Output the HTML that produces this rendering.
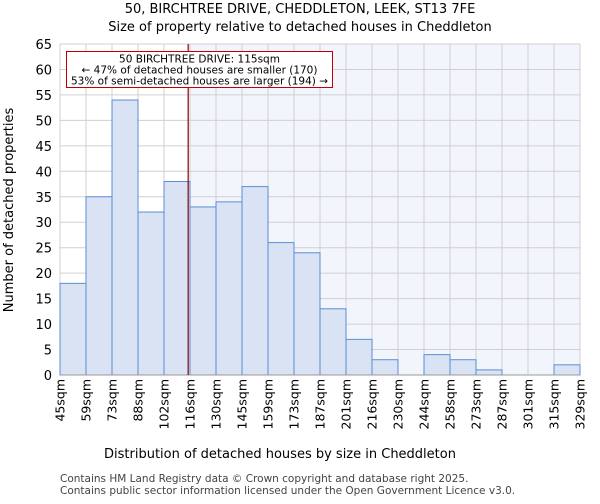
<!DOCTYPE html>
<html><head><meta charset="utf-8"><style>
body{margin:0;background:#fff;font-family:"DejaVu Sans","Liberation Sans",sans-serif}
</style></head><body>
<svg width="600" height="500" xmlns="http://www.w3.org/2000/svg" font-family="DejaVu Sans, Liberation Sans, sans-serif">
<text x="300" y="13" text-anchor="middle" font-size="13">50, BIRCHTREE DRIVE, CHEDDLETON, LEEK, ST13 7FE</text>
<text x="300" y="31" text-anchor="middle" font-size="13">Size of property relative to detached houses in Cheddleton</text>
<g id="plot"></g>
<text x="280" y="458" text-anchor="middle" font-size="13">Distribution of detached houses by size in Cheddleton</text>
<text transform="translate(13,210) rotate(-90)" text-anchor="middle" font-size="13">Number of detached properties</text>
<text x="60" y="482" font-size="10.5" fill="#444">Contains HM Land Registry data © Crown copyright and database right 2025.</text>
<text x="60" y="494" font-size="10.5" fill="#444">Contains public sector information licensed under the Open Government Licence v3.0.</text>
</svg>
<script>
const binLabels=["45sqm","59sqm","73sqm","88sqm","102sqm","116sqm","130sqm","145sqm","159sqm","173sqm","187sqm","201sqm","216sqm","230sqm","244sqm","258sqm","273sqm","287sqm","301sqm","315sqm","329sqm"];
const counts=[18,35,54,32,38,33,34,37,26,24,13,7,3,0,4,3,1,0,0,2];
const yTicks=[0,5,10,15,20,25,30,35,40,45,50,55,60,65];
const propertySize=115;
const edgeStart=45, edgeStep=14.2;
const L=60,R=580,T=44,B=375,yMax=65;
const ns="http://www.w3.org/2000/svg";
const g=document.getElementById('plot');
const bw=(R-L)/counts.length;
const x=v=>L+(v-edgeStart)/edgeStep*bw;
const y=v=>B-(v/yMax)*(B-T);
function mk(t,a){const e=document.createElementNS(ns,t);for(const k in a)e.setAttribute(k,a[k]);g.appendChild(e);return e;}
const px=x(propertySize);
let sh=mk('rect',{x:px,y:T,width:R-px,height:B-T,fill:'#f2f5fc'});


yTicks.forEach(t=>{
 let l=mk('line',{x1:L,x2:R,y1:y(t),y2:y(t),stroke:'#d0d0d0','stroke-width':1});
 
 
 let tx=mk('text',{x:L-8,y:y(t)+5,'text-anchor':'end','font-size':13});
 tx.textContent=t;
 
 
});
binLabels.forEach((s,i)=>{
 const xx=L+i*bw;
 let l=mk('line',{x1:xx,x2:xx,y1:T,y2:B,stroke:'#d0d0d0','stroke-width':1});
 
 
 let tx=mk('text',{transform:`translate(${xx+4.5},${B+4}) rotate(-90)`,'text-anchor':'end','font-size':12.5});
 tx.textContent=s;
 
 
});
counts.forEach((c,i)=>{
 if(c<=0)return;
 let r=mk('rect',{x:L+i*bw,y:y(c),width:bw,height:B-y(c),fill:'#dae3f3',stroke:'#5b8dd6','stroke-width':1});
 
 
});
let ax=mk('line',{x1:L,x2:R,y1:B,y2:B,stroke:'#999'});


let ml=mk('line',{x1:px,x2:px,y1:T,y2:B,stroke:'#900000','stroke-width':1.2});


let box=mk('rect',{x:66.5,y:51.5,width:266,height:36,fill:'#fff',stroke:'#c00000','stroke-width':1});


["50 BIRCHTREE DRIVE: 115sqm","← 47% of detached houses are smaller (170)","53% of semi-detached houses are larger (194) →"].forEach((s,i)=>{
 let t=mk('text',{x:199.5,y:62.5+i*11,'text-anchor':'middle','font-size':10.5});
 t.textContent=s;
 
 
});
</script>
</body></html>
